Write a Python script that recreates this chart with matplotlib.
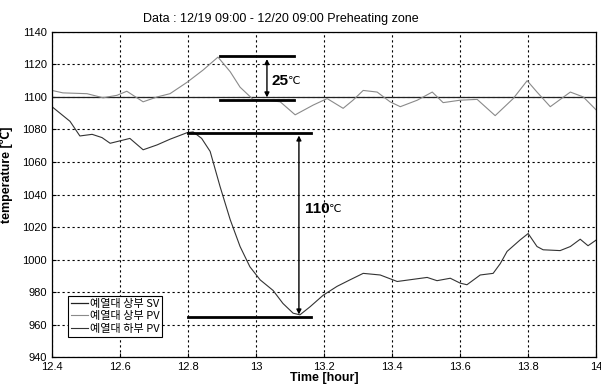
import numpy as np
import matplotlib
matplotlib.use("Agg")
import matplotlib.pyplot as plt

plt.rcParams['font.family'] = ['Liberation Sans', 'Noto Sans CJK KR', 'DejaVu Sans']

# set value (SV) of the upper preheating zone
sv_time = [12.4, 14.0]
sv_temp = [1100, 1100]

# upper zone measured value
upper_time = [12.40, 12.432, 12.503, 12.55, 12.591, 12.62, 12.668, 12.709, 12.747, 12.797,
              12.844, 12.888, 12.924, 12.953, 12.991, 13.032, 13.071, 13.115, 13.168, 13.209,
              13.256, 13.285, 13.315, 13.356, 13.394, 13.424, 13.474, 13.518, 13.55, 13.6,
              13.65, 13.703, 13.756, 13.797, 13.826, 13.865, 13.924, 13.962, 14.0]
upper_temp = [1104, 1102.5, 1102, 1099.5, 1101, 1103.5, 1097, 1100, 1102, 1109,
              1116.5, 1124.5, 1115.5, 1106, 1098.5, 1098, 1097, 1089, 1095, 1099,
              1093, 1098, 1104, 1103, 1097, 1094, 1098, 1103, 1096.5, 1098,
              1098.5, 1088.5, 1099, 1110, 1103, 1094, 1103, 1100, 1092]

# lower zone measured value
lower_time = [12.40, 12.453, 12.482, 12.518, 12.547, 12.571, 12.629, 12.668, 12.709, 12.747,
              12.797, 12.815, 12.84, 12.865, 12.894, 12.924, 12.953, 12.982, 13.012, 13.05,
              13.079, 13.109, 13.129, 13.159, 13.197, 13.238, 13.276, 13.315, 13.365, 13.415,
              13.503, 13.532, 13.571, 13.6, 13.62, 13.659, 13.697, 13.718, 13.738, 13.776,
              13.8, 13.826, 13.844, 13.894, 13.924, 13.953, 13.976, 14.0]
lower_temp = [1094, 1085, 1076, 1077, 1075, 1071.5, 1074.5, 1067.5, 1070.5, 1074,
              1078, 1078.5, 1074.5, 1066.5, 1045, 1024.5, 1008, 995.5, 987.5, 981,
              973, 967, 966, 971, 978, 983.5, 987.5, 991.5, 990.5, 986.5,
              989, 987, 988.5, 985.5, 984.5, 990.5, 991.5, 997.5, 1005, 1012,
              1016, 1008, 1006, 1005.5, 1008, 1012.5, 1008.5, 1012]

labels = ['예열대 상부 SV', '예열대 상부 PV', '예열대 하부 PV']

fig = plt.figure(figsize=(6.01, 3.89), dpi=100)
ax = fig.add_axes([0.0865, 0.082, 0.9055, 0.836])

ax.plot(sv_time, sv_temp, color='#222222', lw=0.9, label=labels[0])
ax.plot(upper_time, upper_temp, color='#8a8a8a', lw=0.8, label=labels[1])
ax.plot(lower_time, lower_temp, color='#333333', lw=0.8, label=labels[2])

ax.set_xlim(12.4, 14)
ax.set_ylim(940, 1140)
xt = np.arange(12.4, 14.01, 0.2)
ax.set_xticks(xt)
ax.set_xticklabels(['%g' % round(v, 1) for v in xt])
ax.set_yticks(np.arange(940, 1141, 20))
ax.tick_params(direction='in', labelsize=8, length=3)
ax.grid(True, color='black', linestyle=(0, (2, 2.5)), lw=0.8)
for s in ax.spines.values():
    s.set_linewidth(0.9)

ax.set_title('Data : 12/19 09:00 - 12/20 09:00 Preheating zone', fontsize=9, pad=7, x=0.42)
ax.set_xlabel('Time [hour]', fontsize=9, fontweight='bold', labelpad=0)
ax.set_ylabel('temperature [\u2103]', fontsize=9, fontweight='bold')
ax.yaxis.set_label_coords(-0.072, 0.56)

# 25 C annotation
ax.plot([12.894, 13.112], [1125, 1125], color='black', lw=2)
ax.plot([12.894, 13.112], [1098, 1098], color='black', lw=2)
ax.annotate('', xy=(13.032, 1125), xytext=(13.032, 1098),
            arrowprops=dict(arrowstyle='<|-|>', color='black', lw=1, mutation_scale=7))
ax.text(13.045, 1110, '25', fontsize=11, fontweight='bold', va='center')
ax.text(13.094, 1110, '\u2103', fontsize=8, va='center', family=['DejaVu Sans'])

# 110 C annotation
ax.plot([12.8, 13.162], [1078, 1078], color='black', lw=2)
ax.plot([12.8, 13.162], [964.5, 964.5], color='black', lw=2)
ax.annotate('', xy=(13.126, 1078), xytext=(13.126, 964.5),
            arrowprops=dict(arrowstyle='<|-|>', color='black', lw=1, mutation_scale=7))
ax.text(13.145, 1031, '110', fontsize=11, fontweight='bold', va='center')
ax.text(13.215, 1031, '\u2103', fontsize=8, va='center', family=['DejaVu Sans'])

leg = ax.legend(loc='lower left', bbox_to_anchor=(0.02, 0.045),
                fancybox=False, edgecolor='black', framealpha=1,
                handlelength=1.5, handletextpad=0.2, borderpad=0.25, labelspacing=0.25,
                prop={'family': ['Noto Sans CJK KR'], 'size': 8})
leg.get_frame().set_linewidth(0.8)

fig.savefig('out.png', dpi=100)
